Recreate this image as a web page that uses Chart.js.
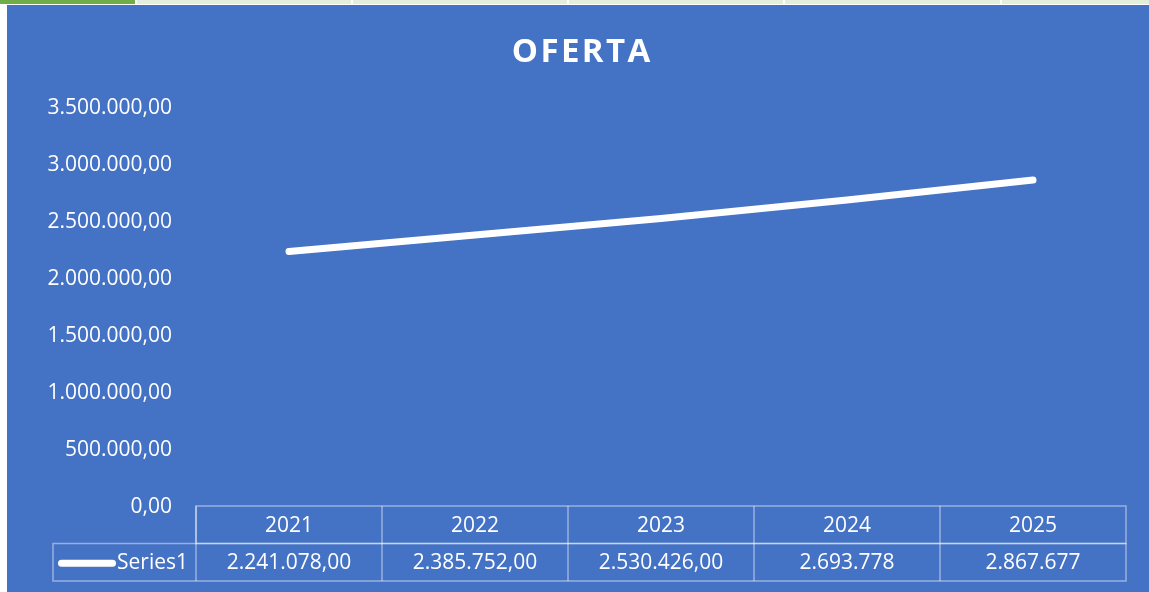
<!DOCTYPE html>
<html>
<head>
<meta charset="utf-8">
<script src="https://cdn.jsdelivr.net/npm/chart.js@4/dist/chart.umd.min.js"></script>
<style>
    html, body { margin: 0; padding: 0; background: #ffffff; overflow: hidden; }
    body { width: 1149px; height: 592px; position: relative; }
    .cell { position: absolute; top: 0; height: 4px; background: #e2efda; }
    #chart-box { position: absolute; left: 7px; top: 5px; width: 1148px; height: 587px; background: #4472c4; }
</style>
</head>
<body>
<div class="cell" style="left:0; width:135px; background:#70ad47;"></div>
<div class="cell" style="left:137px; width:214px;"></div>
<div class="cell" style="left:353px; width:214px;"></div>
<div class="cell" style="left:569px; width:214px;"></div>
<div class="cell" style="left:785px; width:215px;"></div>
<div class="cell" style="left:1002px; width:147px;"></div>
<div id="chart-box"><canvas id="oferta" width="1148" height="587"></canvas></div>

<script>
// data
var years = ['2021', '2022', '2023', '2024', '2025'];
var oferta = [2241078, 2385752, 2530426, 2693778, 2867677];
var ofertaLabels = ['2.241.078,00', '2.385.752,00', '2.530.426,00', '2.693.778', '2.867.677'];
var seriesName = 'Series1';
var chartTitle = 'OFERTA';
var yTicks = [0, 500000, 1000000, 1500000, 2000000, 2500000, 3000000, 3500000];

var white = '#ffffff';
var tableLine = 'rgba(255,255,255,0.45)';
var font = '"Open Sans", "DejaVu Sans", sans-serif';

function formatNumber(v) {
    var s = Math.round(v).toString();
    var out = '';
    while (s.length > 3) {
        out = '.' + s.slice(-3) + out;
        s = s.slice(0, -3);
    }
    return s + out + ',00';
}

// spaced out title, excel style
var spacedTitle = {
    id: 'spacedTitle',
    afterDraw: function(chart) {
        var ctx = chart.ctx;
        ctx.save();
        ctx.fillStyle = white;
        ctx.font = 'bold 33px ' + font;
        ctx.letterSpacing = '2.4px';
        ctx.textAlign = 'center';
        ctx.textBaseline = 'alphabetic';
        ctx.fillText(chartTitle, chart.width / 2 + 1.2, 57);
        ctx.restore();
    }
};

// excel style data table under the plot, drawn from the x scale
var dataTable = {
    id: 'dataTable',
    afterDraw: function(chart) {
        var ctx = chart.ctx;
        var x = chart.scales.x;
        var area = chart.chartArea;
        var colW = (area.right - area.left) / years.length;
        var top = area.bottom - 1;
        var rowH = 37.5;
        var legendLeft = 46;

        ctx.save();
        ctx.strokeStyle = tableLine;
        ctx.lineWidth = 1.5;

        // header row
        ctx.strokeRect(area.left, top, area.right - area.left, rowH);
        // value row incl legend cell
        ctx.strokeRect(legendLeft, top + rowH, area.right - legendLeft, rowH);
        for (var i = 0; i < years.length; i++) {
            var cx = x.getPixelForValue(i);
            var left = cx - colW / 2;
            ctx.beginPath();
            ctx.moveTo(left, top);
            ctx.lineTo(left, top + rowH * 2);
            ctx.stroke();
        }

        ctx.fillStyle = white;
        ctx.font = '21px ' + font;
        ctx.textBaseline = 'middle';
        ctx.textAlign = 'center';
        for (var j = 0; j < years.length; j++) {
            var px = x.getPixelForValue(j);
            ctx.fillText(years[j], px, top + rowH / 2 + 1);
            ctx.fillText(ofertaLabels[j], px, top + rowH * 1.5 + 1);
        }

        // legend key
        var ds = chart.data.datasets[0];
        ctx.textAlign = 'right';
        ctx.fillText(ds.label, area.left - 8, top + rowH * 1.5 + 1);
        ctx.strokeStyle = ds.borderColor;
        ctx.lineWidth = ds.borderWidth;
        ctx.lineCap = 'round';
        ctx.beginPath();
        ctx.moveTo(legendLeft + 8.5, top + rowH * 1.5 + 1);
        ctx.lineTo(legendLeft + 59.5, top + rowH * 1.5 + 1);
        ctx.stroke();
        ctx.restore();
    }
};

var ctx1 = document.querySelector('#oferta');
var myLineChart = new Chart(ctx1, {
    type: 'line',
    data: {
        labels: years,
        datasets: [{
            label: seriesName,
            data: oferta,
            borderColor: white,
            borderWidth: 7,
            borderCapStyle: 'round',
            borderJoinStyle: 'round',
            pointRadius: 0,
            pointHoverRadius: 0,
            tension: 0,
            fill: false
        }]
    },
    plugins: [dataTable, spacedTitle],
    options: {
        responsive: false,
        animation: false,
        devicePixelRatio: 1,
        layout: {
            autoPadding: false,
            padding: { left: 0, right: 29, top: 103, bottom: 85 }
        },
        plugins: {
            legend: { display: false },
            tooltip: { enabled: false },
            title: { display: false }
        },
        scales: {
            x: {
                display: false,
                offset: true
            },
            y: {
                min: 0,
                max: 3500000,
                afterFit: function(scale) { scale.width = 189; },
                afterBuildTicks: function(scale) {
                    scale.ticks = yTicks.map(function(v) { return { value: v }; });
                },
                grid: { display: false, drawTicks: false },
                border: { display: false },
                ticks: {
                    color: white,
                    padding: 24,
                    font: { family: font, size: 21 },
                    callback: function(v) { return formatNumber(v); }
                }
            }
        }
    }
});
</script>
</body>
</html>
